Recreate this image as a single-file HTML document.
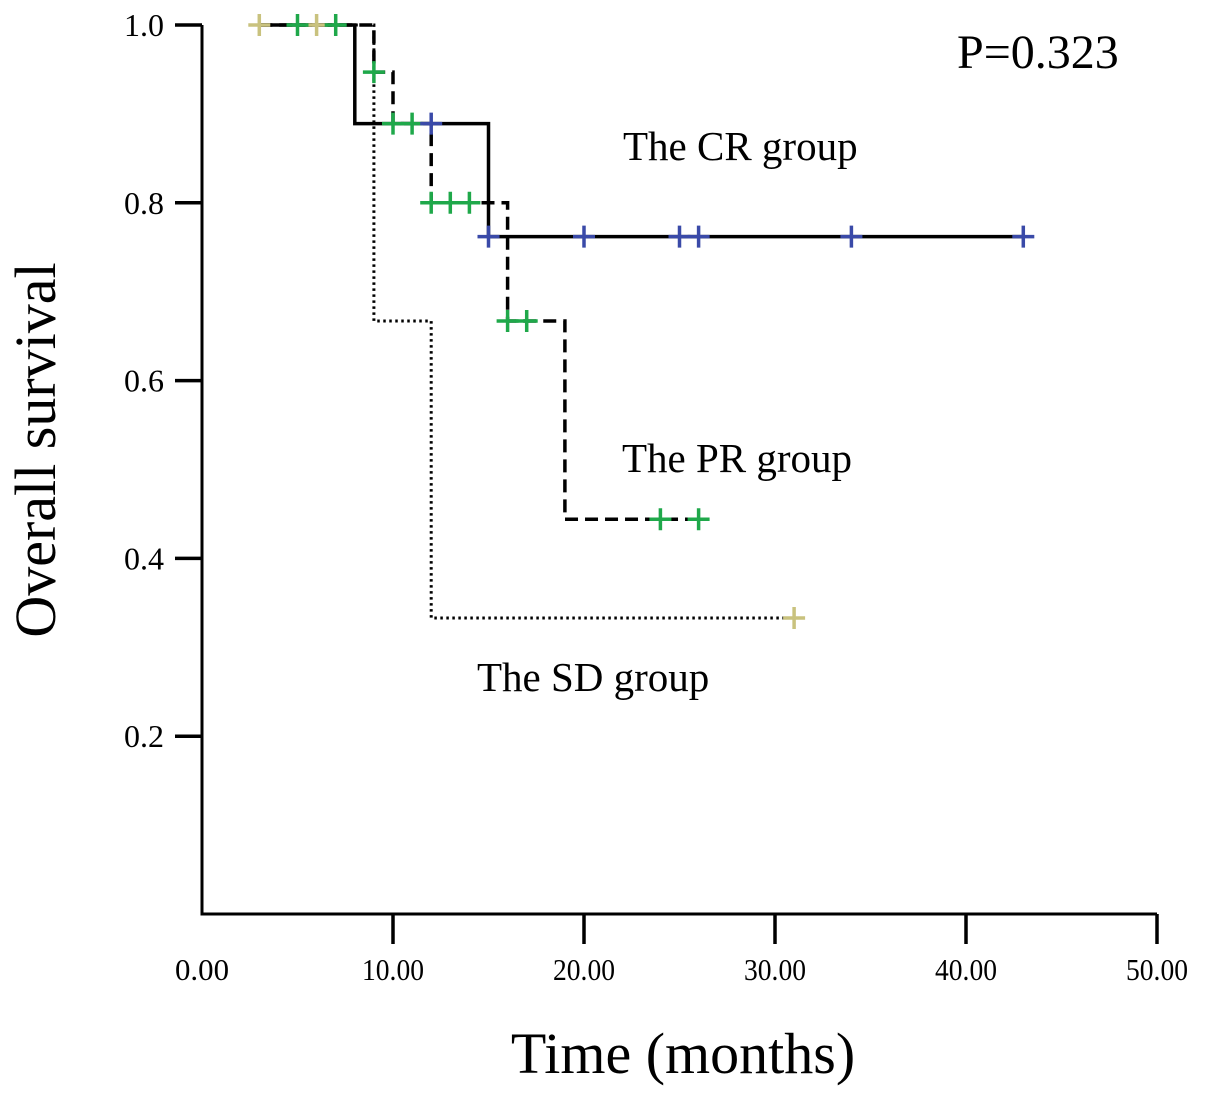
<!DOCTYPE html>
<html><head><meta charset="utf-8"><style>
html,body{margin:0;padding:0;background:#fff;}
svg{display:block;font-family:"Liberation Serif",serif;}
</style></head><body>
<svg id="chart" width="1205" height="1100" viewBox="0 0 1205 1100"></svg>
<script>
const xTicks=[0,10,20,30,40,50];
const xTickLabels=["0.00","10.00","20.00","30.00","40.00","50.00"];
const yTicks=[0.2,0.4,0.6,0.8,1.0];
const yTickLabels=["0.2","0.4","0.6","0.8","1.0"];
// step series: [time, survival]
const crSteps=[[3,1.0],[8,0.889],[15,0.762],[43,0.762]];
const crCensor=[[12,0.889],[15,0.762],[20,0.762],[25,0.762],[26,0.762],[34,0.762],[43,0.762]];
const prSteps=[[3,1.0],[9,0.947],[10,0.889],[12,0.8],[16,0.667],[19,0.444],[26,0.444]];
const prCensor=[[5,1.0],[7,1.0],[9,0.947],[10,0.889],[11,0.889],[12,0.8],[13,0.8],[14,0.8],[16,0.667],[17,0.667],[24,0.444],[26,0.444]];
const sdSteps=[[3,1.0],[9,0.667],[12,0.333],[31,0.333]];
const sdCensor=[[3,1.0],[6,1.0],[31,0.333]];

const X=t=>202+t*19.1;
const Y=s=>914-s*889;
const svg=document.getElementById('chart');
const NS='http://www.w3.org/2000/svg';
function mk(tag,attrs,parent){const e=document.createElementNS(NS,tag);for(const k in attrs)e.setAttribute(k,attrs[k]);(parent||svg).appendChild(e);return e;}

const ax=mk('path',{d:`M202 25 V914 H1157`,fill:'none',stroke:'#000','stroke-width':3});


xTicks.forEach((t,i)=>{
  if(t>0){const l=mk('line',{x1:X(t),x2:X(t),y1:914,y2:944,stroke:'#000','stroke-width':3.5});
  
  }
  const tx=mk('text',{x:X(t),y:980,'text-anchor':'middle','font-size':31,textLength:(xTickLabels[i].length>4?62:54),lengthAdjust:'spacingAndGlyphs'});
  tx.textContent=xTickLabels[i];
  
  
});
yTicks.forEach((v,i)=>{
  const l=mk('line',{x1:175,x2:202,y1:Y(v),y2:Y(v),stroke:'#000','stroke-width':3.5});
  
  
  const tx=mk('text',{x:164,y:Y(v)+11,'text-anchor':'end','font-size':32});
  tx.textContent=yTickLabels[i];
  
  
});
function stepPath(pts){let d=`M${X(pts[0][0])} ${Y(pts[0][1])}`;for(let i=1;i<pts.length;i++){d+=` H${X(pts[i][0])} V${Y(pts[i][1])}`;}return d;}
function series(pts,dash,w,name){
  const p=mk('path',{d:stepPath(pts),fill:'none',stroke:'#000','stroke-width':w,'stroke-dasharray':dash});
  
  
}
series(sdSteps,'2.5 3.5',3,'sd-curve');
series(prSteps,'13 7',3.5,'pr-curve');
series(crSteps,'none',3.5,'cr-curve');
function censors(pts,color,name){
  pts.forEach(([t,s])=>{
    const g=mk('path',{d:`M${X(t)-11} ${Y(s)} H${X(t)+11} M${X(t)} ${Y(s)-11} V${Y(s)+11}`,stroke:color,'stroke-width':3.5,fill:'none'});
    
    
  });
}
censors(sdCensor,'#c9c27e','sd-censor');
censors(prCensor,'#1fa84a','pr-censor');
censors(crCensor,'#3a4aa8','cr-censor');

function label(txt,x,y,size,name,anchor,rot){
  const t=mk('text',{x:x,y:y,'font-size':size,'text-anchor':anchor||'start'});
  if(rot)t.setAttribute('transform',rot);
  t.textContent=txt;
  
  
}
label('P=0.323',957,68,48,'p-value');
label('The CR group',623,160,41,'cr-label');
label('The PR group',622,472,41,'pr-label');
label('The SD group',477,691,41,'sd-label');
label('Time (months)',683,1073,58,'x-axis-title','middle');
label('Overall survival',55,450,58,'y-axis-title','middle','rotate(-90 55 450)');
</script>
</body></html>
